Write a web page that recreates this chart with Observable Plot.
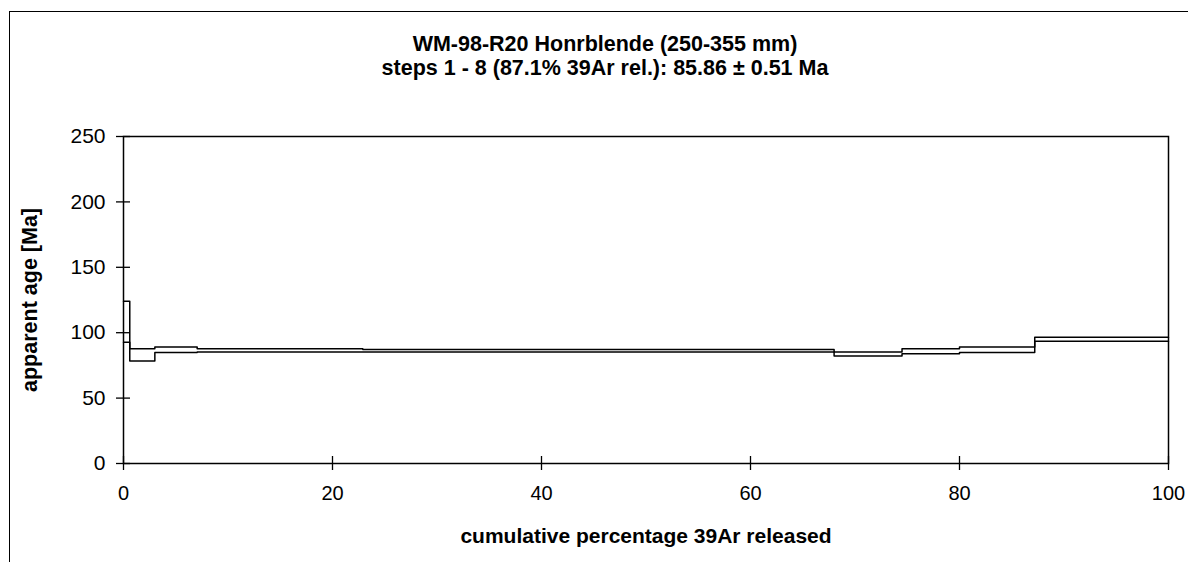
<!DOCTYPE html>
<html>
<head>
<meta charset="utf-8">
<script src="https://cdn.jsdelivr.net/npm/d3@7"></script>
<script src="https://cdn.jsdelivr.net/npm/@observablehq/plot@0.6"></script>
<style>
  html, body { margin: 0; padding: 0; background: #fff; }
  #wrap { position: relative; width: 1188px; height: 562px; overflow: hidden; background: #fff;
          font-family: "Liberation Sans", Arial, sans-serif; color: #000; }
  #border { position: absolute; left: 9px; top: 11px; width: 1400px; height: 800px;
            border-left: 1px solid #000; border-top: 1px solid #000; }
  .title { position: absolute; left: 0; width: 1210px; text-align: center; font-weight: bold;
           font-size: 21.5px; line-height: 24px; }
  #chart { position: absolute; left: 0; top: 0; }
</style>
</head>
<body>
<div id="wrap">
  <div id="border"></div>
  <div class="title" style="top:32px">WM-98-R20 Honrblende (250-355 mm)</div>
  <div class="title" style="top:56px">steps 1 - 8 (87.1% 39Ar rel.): 85.86 ± 0.51 Ma</div>
  <div id="chart"></div>
</div>
<script>
// Step boundaries (cumulative % 39Ar released)
const stepEdges = [0, 0.6, 3.0, 7.05, 22.9, 68.0, 74.5, 80.0, 87.2, 100];
// Apparent age upper / lower bounds (Ma) for each step
const ageUpper = [124, 87.7, 89.1, 87.8, 87.1, 85.2, 87.7, 89.1, 96.5];
const ageLower = [92.7, 78.3, 84.8, 85.2, 85.2, 82.1, 84.0, 84.8, 93.5];
const xTicks = [0, 20, 40, 60, 80, 100];
const yTicks = [0, 50, 100, 150, 200, 250];
const xTitle = "cumulative percentage 39Ar released";
const yTitle = "apparent age [Ma]";

function stepPoints(values) {
  const pts = values.map((v, i) => ({x: stepEdges[i], y: v}));
  pts.push({x: stepEdges[stepEdges.length - 1], y: values[values.length - 1]});
  return pts;
}

const chart = Plot.plot({
  width: 1188,
  height: 562,
  marginLeft: 123,
  marginRight: 20,
  marginTop: 136,
  marginBottom: 99,
  style: {fontFamily: "'Liberation Sans', Arial, sans-serif", fontSize: "21px", color: "#000", background: "transparent", overflow: "visible"},
  x: {domain: [0, 100]},
  y: {domain: [0, 250]},
  marks: [
    Plot.frame({stroke: "#000", strokeWidth: 1.5}),
    Plot.ruleY(yTicks, {y: d => d, x1: 0, x2: 0, insetLeft: -7, insetRight: -7, stroke: "#000", strokeWidth: 1.3}),
    Plot.ruleX(xTicks, {x: d => d, y1: 0, y2: 0, insetTop: -7, insetBottom: -7, stroke: "#000", strokeWidth: 1.3}),
    Plot.axisY({ticks: yTicks, tickSize: 0, tickPadding: 18, label: null, fontSize: 21}),
    Plot.axisX({ticks: xTicks, tickSize: 0, tickPadding: 22, label: null, fontSize: 20}),
    Plot.text([yTitle], {frameAnchor: "left", textAnchor: "middle", rotate: -90, dx: -93, fontWeight: "bold", fontSize: 21.5, fill: "#000"}),
    Plot.text([xTitle], {frameAnchor: "bottom", dy: 79, fontWeight: "bold", fontSize: 21, fill: "#000"}),
    Plot.lineY(stepPoints(ageUpper), {x: "x", y: "y", curve: "step-after", stroke: "#000", strokeWidth: 1.5}),
    Plot.lineY(stepPoints(ageLower), {x: "x", y: "y", curve: "step-after", stroke: "#000", strokeWidth: 1.5})
  ]
});
document.getElementById("chart").appendChild(chart);
</script>
</body>
</html>
